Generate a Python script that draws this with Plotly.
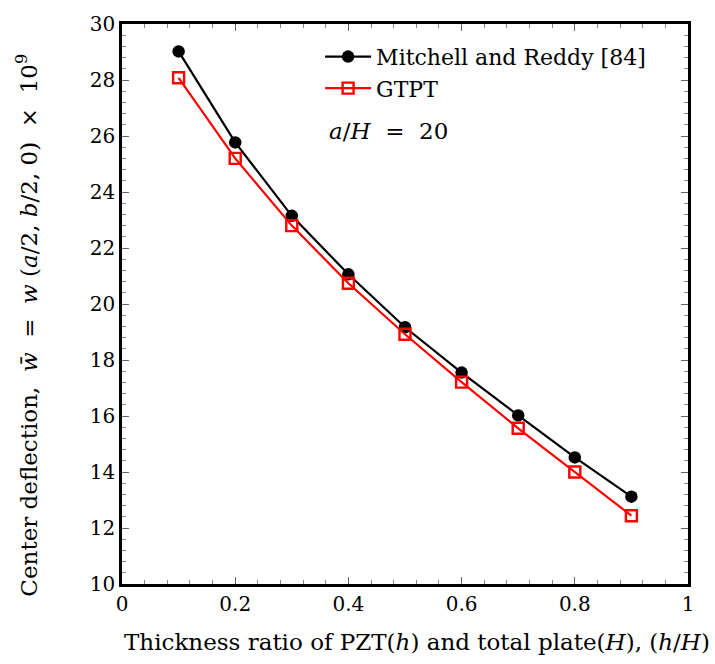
import plotly.graph_objects as go

# Thickness ratio h/H
ratio = [0.1, 0.2, 0.3, 0.4, 0.5, 0.6, 0.7, 0.8, 0.9]
# Center deflection (x 1e9)
mitchell_reddy = [29.02, 25.77, 23.15, 21.06, 19.17, 17.55, 16.02, 14.52, 13.12]
gtpt = [28.08, 25.20, 22.80, 20.74, 18.92, 17.21, 15.56, 14.00, 12.44]

x_ticks = [0, 0.2, 0.4, 0.6, 0.8, 1]
x_tick_text = ["0", "0.2", "0.4", "0.6", "0.8", "1"]
y_ticks = [10, 12, 14, 16, 18, 20, 22, 24, 26, 28, 30]

FONT = "DejaVu Serif"

fig = go.Figure()
fig.add_trace(go.Scatter(
    x=ratio, y=mitchell_reddy, mode="lines+markers",
    name="Mitchell and Reddy [84]",
    line=dict(color="black", width=2.2),
    marker=dict(symbol="circle", size=12.5, color="black"),
))
fig.add_trace(go.Scatter(
    x=ratio, y=gtpt, mode="lines+markers",
    name="GTPT",
    line=dict(color="#ff0000", width=2.2),
    marker=dict(symbol="square-open", size=11, color="#ff0000",
                line=dict(width=2.4, color="#ff0000")),
))

axis_common = dict(
    showline=True, linecolor="black", linewidth=2.6, mirror="ticks",
    ticks="inside", ticklen=7, tickwidth=1, tickcolor="#666666",
    showgrid=False, zeroline=False,
    tickfont=dict(family=FONT, size=20, color="black"),
)

fig.update_xaxes(
    range=[0, 1], tickvals=x_ticks, ticktext=x_tick_text,
    minor=dict(ticks="inside", dtick=0.04, ticklen=4, tickcolor="#888888", tickwidth=1),
    **axis_common,
)
fig.update_yaxes(
    range=[10, 30], tickvals=y_ticks,
    minor=dict(ticks="inside", dtick=0.4, ticklen=4, tickcolor="#888888", tickwidth=1),
    **axis_common,
)

# Axis titles
fig.add_annotation(
    x=0.522, y=-0.104, xref="paper", yref="paper",
    xanchor="center", yanchor="middle",
    text="Thickness ratio of PZT(<i>h</i>) and total plate(<i>H</i>), (<i>h</i>/<i>H</i>)",
    showarrow=False, font=dict(family=FONT, size=23, color="black"),
)
fig.add_annotation(
    x=-0.168, y=0.463, xref="paper", yref="paper", textangle=-90,
    xanchor="center", yanchor="middle",
    text="Center deflection,  <i>w\u0304</i>  =  <i>w</i> (<i>a</i>/2, <i>b</i>/2, 0)  \u00d7  10<sup>9</sup>",
    showarrow=False, font=dict(family=FONT, size=23, color="black"),
)

fig.add_annotation(
    x=0.47, y=0.809, xref="paper", yref="paper",
    xanchor="center", yanchor="middle",
    text="<i>a</i>/<i>H</i>  =  20", showarrow=False,
    font=dict(family=FONT, size=23, color="black"),
)

fig.update_layout(
    width=715, height=664,
    margin=dict(l=122, r=27, t=18, b=80),
    plot_bgcolor="white", paper_bgcolor="white",
    showlegend=True,
    legend=dict(x=0.35, y=0.979, xanchor="left", yanchor="top",
                bgcolor="rgba(0,0,0,0)", borderwidth=0,
                font=dict(family=FONT, size=22, color="black"),
                itemwidth=46, tracegroupgap=0),
)

fig.write_html("out.html")
